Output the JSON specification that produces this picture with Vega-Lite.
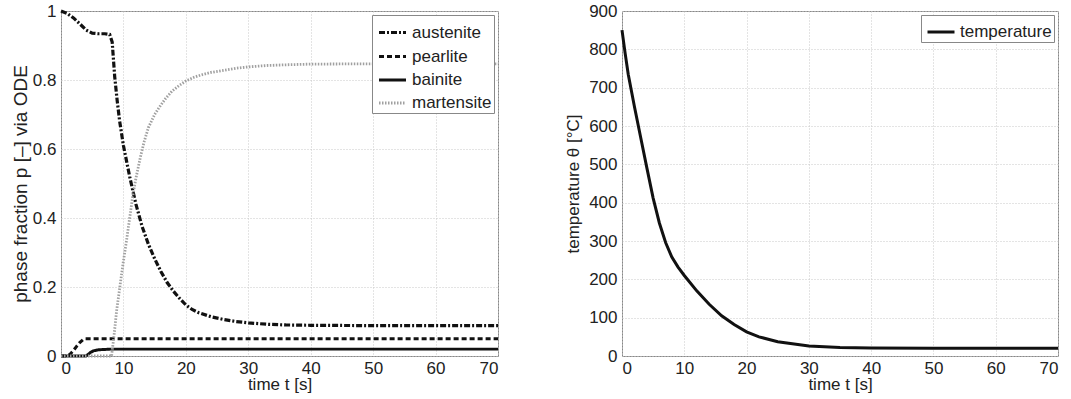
{
  "$schema": "https://vega.github.io/schema/vega-lite/v6.json",
  "padding": {"left": 10, "top": 1, "right": 2, "bottom": 2},
  "background": "white",
  "resolve": {
    "scale": {"color": "independent", "strokeDash": "independent", "strokeWidth": "independent", "x": "independent", "y": "independent"},
    "legend": {"color": "independent", "strokeDash": "independent", "strokeWidth": "independent"}
  },
  "config": {
    "font": "Liberation Sans",
    "view": {"stroke": "#888", "strokeWidth": 1},
    "concat": {"spacing": 59},
    "axis": {
      "labelFontSize": 17, "titleFontSize": 17, "titleFontWeight": "normal",
      "labelColor": "#222", "titleColor": "#222", "domain": false, "ticks": false,
      "grid": true, "gridColor": "#c8c8c8", "gridDash": [1, 2], "gridWidth": 1,
      "labelPadding": 5
    },
    "legend": {
      "orient": "top-right", "fillColor": "white", "strokeColor": "#888",
      "padding": 2, "offset": 4, "labelFontSize": 17, "labelColor": "#222",
      "symbolType": "stroke", "symbolSize": 729, "symbolOffset": 3, "labelOffset": 4, "rowPadding": -5, "title": null
    }
  },
  "datasets": {
    "phases": [
      {"t": 0, "p": 1.0, "phase": "austenite"},
      {"t": 1, "p": 0.993, "phase": "austenite"},
      {"t": 2, "p": 0.98, "phase": "austenite"},
      {"t": 3, "p": 0.963, "phase": "austenite"},
      {"t": 4, "p": 0.945, "phase": "austenite"},
      {"t": 5, "p": 0.936, "phase": "austenite"},
      {"t": 6, "p": 0.934, "phase": "austenite"},
      {"t": 7, "p": 0.934, "phase": "austenite"},
      {"t": 7.8, "p": 0.932, "phase": "austenite"},
      {"t": 8.2, "p": 0.91, "phase": "austenite"},
      {"t": 8.6, "p": 0.81, "phase": "austenite"},
      {"t": 9, "p": 0.74, "phase": "austenite"},
      {"t": 9.4, "p": 0.68, "phase": "austenite"},
      {"t": 10, "p": 0.61, "phase": "austenite"},
      {"t": 10.5, "p": 0.565, "phase": "austenite"},
      {"t": 11, "p": 0.52, "phase": "austenite"},
      {"t": 11.5, "p": 0.48, "phase": "austenite"},
      {"t": 12, "p": 0.44, "phase": "austenite"},
      {"t": 13, "p": 0.375, "phase": "austenite"},
      {"t": 14, "p": 0.324, "phase": "austenite"},
      {"t": 15, "p": 0.282, "phase": "austenite"},
      {"t": 16, "p": 0.245, "phase": "austenite"},
      {"t": 17, "p": 0.213, "phase": "austenite"},
      {"t": 18, "p": 0.188, "phase": "austenite"},
      {"t": 19, "p": 0.167, "phase": "austenite"},
      {"t": 20, "p": 0.148, "phase": "austenite"},
      {"t": 21, "p": 0.135, "phase": "austenite"},
      {"t": 22, "p": 0.126, "phase": "austenite"},
      {"t": 24, "p": 0.114, "phase": "austenite"},
      {"t": 26, "p": 0.106, "phase": "austenite"},
      {"t": 28, "p": 0.1, "phase": "austenite"},
      {"t": 30, "p": 0.096, "phase": "austenite"},
      {"t": 33, "p": 0.092, "phase": "austenite"},
      {"t": 36, "p": 0.09, "phase": "austenite"},
      {"t": 40, "p": 0.089, "phase": "austenite"},
      {"t": 50, "p": 0.088, "phase": "austenite"},
      {"t": 70, "p": 0.088, "phase": "austenite"},
      {"t": 0, "p": 0, "phase": "pearlite"},
      {"t": 1.1, "p": 0, "phase": "pearlite"},
      {"t": 1.5, "p": 0.006, "phase": "pearlite"},
      {"t": 2, "p": 0.016, "phase": "pearlite"},
      {"t": 2.5, "p": 0.028, "phase": "pearlite"},
      {"t": 3, "p": 0.039, "phase": "pearlite"},
      {"t": 3.5, "p": 0.047, "phase": "pearlite"},
      {"t": 3.9, "p": 0.05, "phase": "pearlite"},
      {"t": 70, "p": 0.05, "phase": "pearlite"},
      {"t": 0, "p": 0, "phase": "bainite"},
      {"t": 4, "p": 0, "phase": "bainite"},
      {"t": 4.3, "p": 0.004, "phase": "bainite"},
      {"t": 4.7, "p": 0.01, "phase": "bainite"},
      {"t": 5.2, "p": 0.015, "phase": "bainite"},
      {"t": 6, "p": 0.018, "phase": "bainite"},
      {"t": 7, "p": 0.019, "phase": "bainite"},
      {"t": 8, "p": 0.02, "phase": "bainite"},
      {"t": 70, "p": 0.02, "phase": "bainite"},
      {"t": 0, "p": 0, "phase": "martensite"},
      {"t": 8.1, "p": 0, "phase": "martensite"},
      {"t": 8.5, "p": 0.06, "phase": "martensite"},
      {"t": 8.9, "p": 0.13, "phase": "martensite"},
      {"t": 9.5, "p": 0.21, "phase": "martensite"},
      {"t": 10, "p": 0.275, "phase": "martensite"},
      {"t": 10.5, "p": 0.335, "phase": "martensite"},
      {"t": 11, "p": 0.4, "phase": "martensite"},
      {"t": 11.5, "p": 0.465, "phase": "martensite"},
      {"t": 12, "p": 0.515, "phase": "martensite"},
      {"t": 12.7, "p": 0.575, "phase": "martensite"},
      {"t": 13.3, "p": 0.62, "phase": "martensite"},
      {"t": 14, "p": 0.662, "phase": "martensite"},
      {"t": 15, "p": 0.7, "phase": "martensite"},
      {"t": 15.7, "p": 0.72, "phase": "martensite"},
      {"t": 16.7, "p": 0.745, "phase": "martensite"},
      {"t": 17.8, "p": 0.768, "phase": "martensite"},
      {"t": 19, "p": 0.785, "phase": "martensite"},
      {"t": 20, "p": 0.797, "phase": "martensite"},
      {"t": 21.3, "p": 0.808, "phase": "martensite"},
      {"t": 22.7, "p": 0.816, "phase": "martensite"},
      {"t": 24, "p": 0.822, "phase": "martensite"},
      {"t": 26, "p": 0.828, "phase": "martensite"},
      {"t": 28, "p": 0.834, "phase": "martensite"},
      {"t": 30, "p": 0.838, "phase": "martensite"},
      {"t": 33, "p": 0.842, "phase": "martensite"},
      {"t": 36, "p": 0.844, "phase": "martensite"},
      {"t": 40, "p": 0.846, "phase": "martensite"},
      {"t": 50, "p": 0.847, "phase": "martensite"},
      {"t": 70, "p": 0.847, "phase": "martensite"}
    ],
    "temp": [
      {"t": 0, "T": 850, "series": "temperature"},
      {"t": 0.5, "T": 790, "series": "temperature"},
      {"t": 1, "T": 735, "series": "temperature"},
      {"t": 2, "T": 650, "series": "temperature"},
      {"t": 3, "T": 570, "series": "temperature"},
      {"t": 4, "T": 490, "series": "temperature"},
      {"t": 5, "T": 412, "series": "temperature"},
      {"t": 6, "T": 347, "series": "temperature"},
      {"t": 7, "T": 296, "series": "temperature"},
      {"t": 8, "T": 258, "series": "temperature"},
      {"t": 9, "T": 232, "series": "temperature"},
      {"t": 10, "T": 210, "series": "temperature"},
      {"t": 12, "T": 170, "series": "temperature"},
      {"t": 14, "T": 135, "series": "temperature"},
      {"t": 16, "T": 105, "series": "temperature"},
      {"t": 18, "T": 82, "series": "temperature"},
      {"t": 20, "T": 63, "series": "temperature"},
      {"t": 22, "T": 50, "series": "temperature"},
      {"t": 25, "T": 37, "series": "temperature"},
      {"t": 30, "T": 26, "series": "temperature"},
      {"t": 35, "T": 22, "series": "temperature"},
      {"t": 40, "T": 21, "series": "temperature"},
      {"t": 50, "T": 20, "series": "temperature"},
      {"t": 70, "T": 20, "series": "temperature"}
    ]
  },
  "hconcat": [
    {
      "width": 437, "height": 345,
      "data": {"name": "phases"},
      "mark": {"type": "line", "strokeCap": "butt"},
      "encoding": {
        "x": {"field": "t", "type": "quantitative", "scale": {"domain": [0, 70], "nice": false},
              "axis": {"values": [0, 10, 20, 30, 40, 50, 60, 70], "title": "time t [s]", "titlePadding": 0, "labelPadding": 4}},
        "y": {"field": "p", "type": "quantitative", "scale": {"domain": [0, 1], "nice": false},
              "axis": {"values": [0, 0.2, 0.4, 0.6, 0.8, 1], "format": "~g", "title": "phase fraction p [–] via ODE", "titleFontSize": 19, "titlePadding": 2}},
        "color": {"field": "phase", "type": "nominal",
                  "scale": {"domain": ["austenite", "pearlite", "bainite", "martensite"], "range": ["#111", "#111", "#111", "#a0a0a0"]}},
        "strokeDash": {"field": "phase", "type": "nominal",
                  "scale": {"domain": ["austenite", "pearlite", "bainite", "martensite"], "range": [[6, 2, 2, 2], [5, 3], [1, 0], [1.5, 1.5]]}},
        "strokeWidth": {"field": "phase", "type": "nominal",
                  "scale": {"domain": ["austenite", "pearlite", "bainite", "martensite"], "range": [3.2, 2.8, 2.5, 2.2]}},
        "order": {"field": "t", "type": "quantitative"}
      }
    },
    {
      "width": 436, "height": 345,
      "data": {"name": "temp"},
      "mark": {"type": "line", "strokeWidth": 3},
      "encoding": {
        "x": {"field": "t", "type": "quantitative", "scale": {"domain": [0, 70], "nice": false},
              "axis": {"values": [0, 10, 20, 30, 40, 50, 60, 70], "title": "time t [s]", "titlePadding": 0, "labelPadding": 4}},
        "y": {"field": "T", "type": "quantitative", "scale": {"domain": [0, 900], "nice": false},
              "axis": {"values": [0, 100, 200, 300, 400, 500, 600, 700, 800, 900], "title": "temperature θ [°C]", "titlePadding": 6}},
        "color": {"field": "series", "type": "nominal", "scale": {"domain": ["temperature"], "range": ["#111"]},
                  "legend": {"symbolStrokeWidth": 3}}
      }
    }
  ]
}
